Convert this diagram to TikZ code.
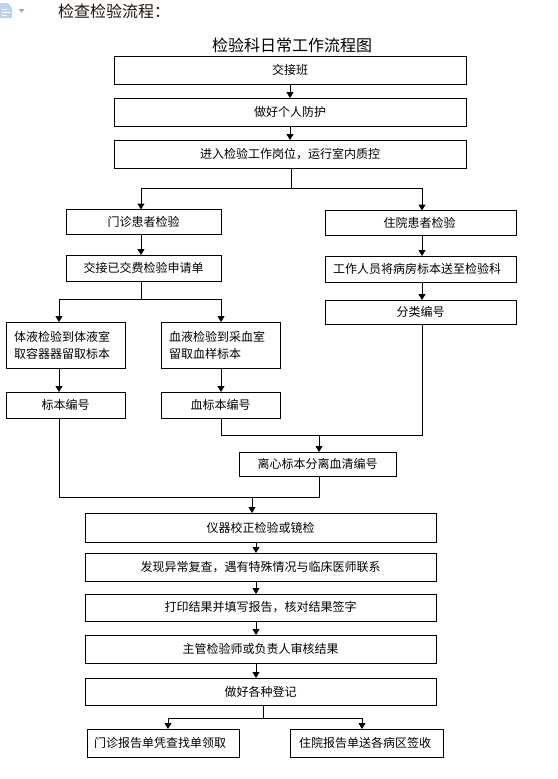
\documentclass[tikz,border=0pt]{standalone}
\usepackage{fontspec}
\setmainfont{Noto Sans CJK SC}
\usetikzlibrary{arrows.meta,calc}
\definecolor{iconblue}{RGB}{190,210,235}
\newcommand{\dropText}[1]{\raisebox{-1pt}{#1}}
\tikzset{
    flowbox/.style={draw,line width=1pt,rectangle,inner sep=0pt,outer sep=0pt,font=\fontsize{12}{17}\selectfont},
    widebox/.style={flowbox,minimum width=352pt,minimum height=28pt},
    midbox/.style={flowbox,minimum width=155pt,minimum height=25pt},
    ward/.style={flowbox,minimum width=191pt,minimum height=25pt},
    sidebox/.style={flowbox,minimum width=119pt,minimum height=26pt},
    tallbox/.style={flowbox,minimum width=119pt,minimum height=46pt,align=left,text width=103pt},
    report/.style={flowbox,minimum width=152pt,minimum height=28pt},
    flow/.style={line width=1pt,-{Triangle[length=6pt,width=7pt]}},
    bus/.style={line width=1pt}
}

\begin{document}
\begin{tikzpicture}[x=1pt,y=-1pt]
    \useasboundingbox (0,0) rectangle (557,779);

    % page icon
    \fill[iconblue] (0,3) -- (8,3) -- (12,8) -- (12,18) -- (0,18) -- cycle;
    \draw[white,line width=1pt] (2,9) -- (7,9) (2,12) -- (10,12) (2,15) -- (7,15);
    \fill[gray!70] (18.5,9) -- (24.5,9) -- (21.5,12.5) -- cycle;

    \node[anchor=west,inner sep=0pt,font=\fontsize{16}{16}\selectfont,text=black!85!brown] (head) at (58,11) {检查检验流程：};
    \node[inner sep=0pt,font=\fontsize{16}{16}\selectfont] (title) at (292,45) {检验科日常工作流程图};

    \node[widebox] (handover) at (290,70) {交接班};
    \node[widebox] (protect) at (290,112) {做好个人防护};
    \node[widebox] (enter) at (290,154) {进入检验工作岗位，运行室内质控};

    \node[midbox] (outpatient) at (143.5,222) {\dropText{门诊患者检验}};
    \node[midbox,minimum height=26pt] (request) at (143.5,268) {\dropText{交接已交费检验申请单}};
    \node[ward] (inpatient) at (420.5,223) {\dropText{住院患者检验}\kern2pt};
    \node[ward,minimum height=26pt] (carry) at (420.5,269) {\dropText{工作人员将病房标本送至检验科}\kern7pt};
    \node[ward,minimum height=24pt] (sort) at (420.5,312) {\dropText{分类编号}};

    \node[tallbox] (fluid) at (65.5,345) {体液检验到体液室\\取容器器留取标本};
    \node[tallbox] (blood) at (220.5,345) {血液检验到采血室\\留取血样标本};
    \node[sidebox] (fluidno) at (65.5,405) {标本编号};
    \node[sidebox] (bloodno) at (220.5,405) {血标本编号};
    \node[flowbox,minimum width=157pt,minimum height=24pt] (spin) at (317.5,464) {离心标本分离血清编号};

    \node[widebox,minimum width=351pt,minimum height=29pt] (instrument) at (260.5,527.5) {仪器校正检验或镜检};
    \node[widebox,minimum width=351pt] (recheck) at (260.5,567) {发现异常复查，遇有特殊情况与临床医师联系};
    \node[widebox,minimum width=351pt,minimum height=27pt] (print) at (260.5,607.5) {打印结果并填写报告，核对结果签字};
    \node[widebox,minimum width=351pt] (review) at (260.5,649) {主管检验师或负责人审核结果};
    \node[widebox,minimum width=351pt,minimum height=27pt] (register) at (260.5,691.5) {做好各种登记};
    \node[report] (pickup) at (163.5,743) {门诊报告单凭查找单领取\kern7pt};
    \node[report,minimum width=153pt] (deliver) at (366.5,743) {住院报告单送各病区签收\kern3pt};

    \coordinate (split1) at (291,188);
    \coordinate (split2) at (141,299);
    \coordinate (join1) at (319,435);
    \coordinate (join2) at (252,497);
    \coordinate (split3) at (263,718);

    \draw[flow] (handover.south) -- (protect.north);
    \draw[flow] (protect.south) -- (enter.north);

    \draw[bus] (split1 |- enter.south) -- (split1);
    \draw[flow] (split1) -| (outpatient.north -| 141,0);
    \draw[flow] (split1) -| (inpatient.north -| 422,0);
    \draw[flow] (outpatient.south -| 141,0) -- (request.north -| 141,0);
    \draw[flow] (inpatient.south -| 422,0) -- (carry.north -| 422,0);
    \draw[flow] (carry.south -| 422,0) -- (sort.north -| 422,0);

    \draw[bus] (split2 |- request.south) -- (split2);
    \draw[flow] (split2) -| (fluid.north -| 59,0);
    \draw[flow] (split2) -| (blood.north -| 221,0);
    \draw[flow] (fluid.south -| 59,0) -- (fluidno.north -| 59,0);
    \draw[flow] (blood.south -| 221,0) -- (bloodno.north -| 221,0);

    \draw[bus] (bloodno.south -| 221,0) |- (join1);
    \draw[bus] (sort.south -| 422,0) |- (join1);
    \draw[flow] (join1) -- (spin.north -| join1);

    \draw[bus] (fluidno.south -| 59,0) |- (join2);
    \draw[bus] (spin.south -| 319,0) |- (join2);
    \draw[flow] (join2) -- (instrument.north -| join2);

    \draw[flow] (instrument.south -| 256,0) -- (recheck.north -| 256,0);
    \draw[flow] (recheck.south -| 256,0) -- (print.north -| 256,0);
    \draw[flow] (print.south -| 256,0) -- (review.north -| 256,0);
    \draw[flow] (review.south -| 256,0) -- (register.north -| 256,0);

    \draw[bus] (split3 |- register.south) -- (split3);
    \draw[flow] (split3) -| (pickup.north -| 168,0);
    \draw[flow] (split3) -| (deliver.north -| 362,0);
\end{tikzpicture}
\end{document}
